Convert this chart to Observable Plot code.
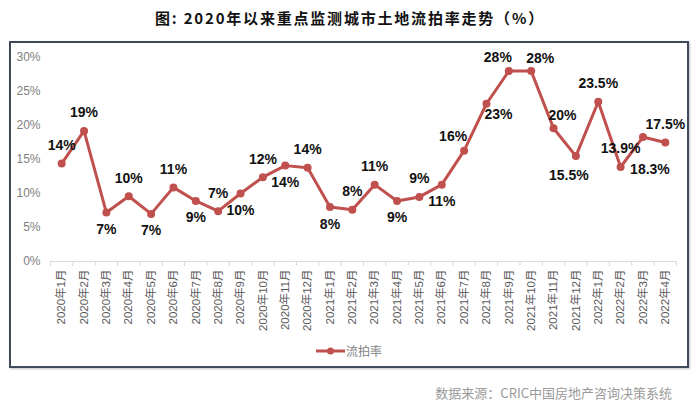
<!DOCTYPE html>
<html>
<head>
<meta charset="utf-8">
<script src="https://cdn.jsdelivr.net/npm/d3@7"></script>
<script src="https://cdn.jsdelivr.net/npm/@observablehq/plot@0.6"></script>
<style>
  html, body { margin: 0; padding: 0; background: #fff; }
  body { width: 700px; height: 416px; position: relative; overflow: hidden;
         font-family: "Liberation Sans", Arial, "Noto Sans CJK SC", sans-serif; }
  #title { position: absolute; left: 0; top: 7px; width: 700px; text-align: center;
           font-size: 15px; font-weight: bold; letter-spacing: 1.8px; color: #111;
           font-family: "Noto Sans CJK SC", "Liberation Sans", sans-serif; }
  #frame { position: absolute; left: 9px; top: 41px; width: 676px; height: 323px;
           border: 2px solid #3f4b5b; box-shadow: 1px 1px 2px rgba(0,0,0,0.25); pointer-events: none; }
  #chart { position: absolute; left: 0; top: 45px; }
  #legend { position: absolute; left: 316px; top: 342px; font-size: 12px; color: #7f7f7f;
            display: flex; align-items: center; font-family: "Noto Sans CJK SC", sans-serif; }
  #caption { position: absolute; right: 28px; top: 383px; font-size: 13px; color: #9a9a9a;
             font-family: "Noto Sans CJK SC", "Liberation Sans", sans-serif; }
</style>
</head>
<body>
<div id="title">图: 2020年以来重点监测城市土地流拍率走势（%）</div>
<div id="chart"></div>
<div id="frame"></div>
<div id="legend"><svg width="30" height="12"><line x1="0" y1="6" x2="29" y2="6" stroke="#c0504d" stroke-width="3"/><circle cx="14.5" cy="6" r="3.5" fill="#c0504d"/></svg><span>流拍率</span></div>
<div id="caption">数据来源：CRIC中国房地产咨询决策系统</div>
<script>
const months = ["2020年1月","2020年2月","2020年3月","2020年4月","2020年5月","2020年6月","2020年7月","2020年8月","2020年9月","2020年10月","2020年11月","2020年12月",
  "2021年1月","2021年2月","2021年3月","2021年4月","2021年5月","2021年6月","2021年7月","2021年8月","2021年9月","2021年10月","2021年11月","2021年12月",
  "2022年1月","2022年2月","2022年3月","2022年4月"];
const rates = [14.4, 19.2, 7.2, 9.6, 7.0, 10.9, 8.9, 7.4, 10.0, 12.4, 14.1, 13.8,
  8.0, 7.6, 11.3, 8.9, 9.5, 11.3, 16.3, 23.2, 28.0, 28.0, 19.6, 15.5,
  23.5, 13.9, 18.3, 17.5];
const labels = ["14%","19%","7%","10%","7%","11%","9%","7%","10%","12%","14%","14%",
  "8%","8%","11%","9%","9%","11%","16%","23%","28%","28%","20%","15.5%",
  "23.5%","13.9%","18.3%","17.5%"];
// label placement relative to the point: t = above, b = below, l/r = shifted sideways
const placement = ["t","t","b","t","b","t","b","t","b","t","b","t",
  "b","t","t","b","t","b","tl","br","tl","tr","tr","bl",
  "t","t","bbr","t"];
const yTicks = [0, 5, 10, 15, 20, 25, 30];

const data = months.map((m, i) => ({month: m, rate: rates[i], label: labels[i], pos: placement[i]}));

const W = 700, H = 295, ML = 50, MR = 24, MT = 12, MB = 79;
const bw = (W - ML - MR) / months.length;
const off = {
  t: [0, -18], b: [0, 17], tl: [-11, -14], tr: [9, -13], bl: [-7, 19], br: [12, 11], bbr: [7, 32]
};
const lab = (p) => data.filter(d => d.pos === p);

const marks = [
  Plot.ruleY([0], {stroke: "#d9d9d9", strokeWidth: 1}),
  Plot.ruleX(months, {x: d => d, y1: 0, y2: 0, insetBottom: -5, dx: -bw / 2, stroke: "#d9d9d9"}),
  Plot.ruleX(months.slice(-1), {x: d => d, y1: 0, y2: 0, insetBottom: -5, dx: bw / 2, stroke: "#d9d9d9"}),
  Plot.line(data, {x: "month", y: "rate", stroke: "#c0504d", strokeWidth: 3}),
  Plot.dot(data, {x: "month", y: "rate", r: 4, fill: "#c0504d"}),
  ...Object.keys(off).map(p => Plot.text(lab(p), {
    x: "month", y: "rate", text: "label", dx: off[p][0], dy: off[p][1],
    fontSize: 14, fontWeight: "bold", fill: "#111"
  }))
];

const chart = Plot.plot({
  width: W, height: H,
  marginLeft: ML, marginRight: MR, marginTop: MT, marginBottom: MB,
  style: {fontFamily: '"Liberation Sans", Arial, "Noto Sans CJK SC", sans-serif', background: "transparent"},
  x: {type: "band", domain: months, padding: 0, round: false, tickRotate: -90, tickSize: 0, tickPadding: 8, label: null},
  y: {domain: [0, 30], ticks: yTicks, tickFormat: d => d + "%", tickSize: 0, tickPadding: 10, label: null},
  marks
});
document.getElementById("chart").appendChild(chart);

// style axes text
d3.select(chart).selectAll('g[aria-label="y-axis"] text, g[aria-label="y-axis tick label"] text')
  .attr("fill", "#808080").style("font-size", "12px");
d3.select(chart).selectAll('g[aria-label="x-axis"] text, g[aria-label="x-axis tick label"] text')
  .attr("fill", "#595959").style("font-size", "11.5px");
d3.select(chart).selectAll('g[aria-label="y-axis"] path, g[aria-label="x-axis"] path').remove();
</script>
</body>
</html>
